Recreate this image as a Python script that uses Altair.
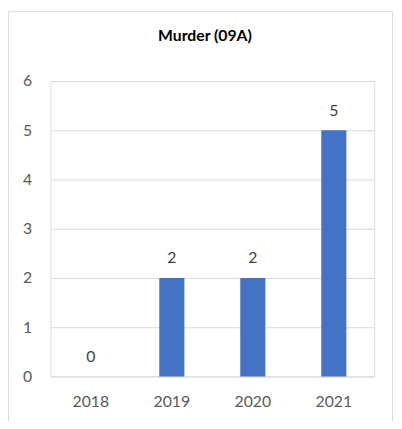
import altair as alt
import pandas as pd

years = ["2018", "2019", "2020", "2021"]
counts = [0, 2, 2, 5]
y_ticks = [0, 1, 2, 3, 4, 5, 6]
title_text = "Murder (09A)"

df = pd.DataFrame({"year": years, "count": counts})

FONT = "Lato"
W, H = 329, 300

x_enc = alt.X("year:N", sort=years, title=None,
              scale=alt.Scale(paddingInner=0.69, paddingOuter=0.345),
              axis=alt.Axis(labelAngle=0, labelFont=FONT, labelFontSize=16,
                            labelColor="#595959", ticks=False, domain=False,
                            labelPadding=17, grid=False))
y_enc = alt.Y("count:Q", title=None,
              scale=alt.Scale(domain=[0, 6], nice=False),
              axis=alt.Axis(values=y_ticks, labelFont=FONT, labelFontSize=16,
                            labelColor="#595959", ticks=False, domain=False,
                            labelPadding=19, grid=True, gridColor="#D9D9D9",
                            gridWidth=1))

bars = alt.Chart(df).mark_bar(color="#4472C4").encode(x=x_enc, y=y_enc)

labels = alt.Chart(df).mark_text(
    font=FONT, fontSize=16, color="#404040", dy=-15, baseline="alphabetic"
).encode(x=alt.X("year:N", sort=years), y="count:Q", text="count:Q")

border = alt.Chart(pd.DataFrame({"a": [0]})).mark_rect(
    fill=None, stroke="#D9D9D9", strokeWidth=1
).encode(x=alt.value(-42.5), x2=alt.value(347.5),
         y=alt.value(-70.5), y2=alt.value(400))

title = alt.Chart(pd.DataFrame({"t": [title_text]})).mark_text(
    font=FONT, fontSize=16, fontWeight="bold", color="#000000",
    baseline="middle", align="center"
).encode(x=alt.value(157), y=alt.value(-46), text="t:N")

chart = alt.layer(border, bars, labels, title).properties(
    width=W, height=H,
    padding={"left": 43, "top": 71, "right": 20, "bottom": 42},
    autosize=alt.AutoSizeParams(type="none"),
).configure_view(stroke=None).configure(background="white")

chart.save("out.html", embed_options={"renderer": "svg", "actions": False})
